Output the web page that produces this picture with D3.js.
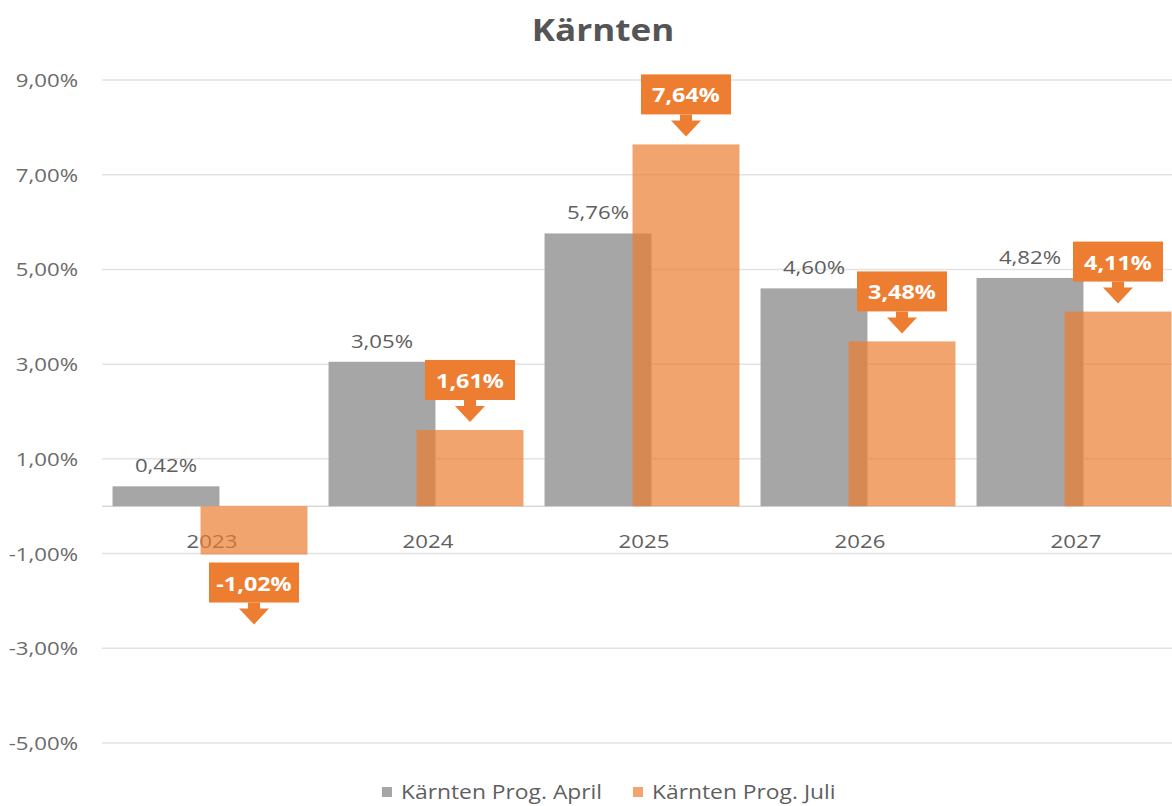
<!DOCTYPE html>
<html>
<head>
<meta charset="utf-8">
<script src="https://cdn.jsdelivr.net/npm/d3@7"></script>
<style>
  body { margin: 0; background: #fff; }
  #chart { width: 1172px; height: 806px; }
  text { font-family: "Open Sans", sans-serif; }
</style>
</head>
<body>
<div id="chart"></div>
<script>
const years = ["2023", "2024", "2025", "2026", "2027"];
const aprilValues = [0.42, 3.05, 5.76, 4.60, 4.82];
const juliValues = [-1.02, 1.61, 7.64, 3.48, 4.11];
const seriesNames = ["Kärnten Prog. April", "Kärnten Prog. Juli"];
const yTicks = [-5, -3, -1, 1, 3, 5, 7, 9];
const chartTitle = "Kärnten";

const width = 1172, height = 806;
const greyColor = "#a6a6a6";
const orangeColor = "#ed7d31";
const textColor = "#5f5f5f";
// the source picture is a bit wider than tall, so text gets stretched
const stretch = 1.17;

const locale = d3.formatLocale({ decimal: ",", thousands: ".", grouping: [3], currency: ["", "€"], minus: "-" });
const pct = v => locale.format(".2f")(v) + "%";
const place = (x, y) => "translate(" + x + "," + y + ") scale(" + stretch + ",1)";

const svg = d3.select("#chart")
    .append("svg")
    .attr("width", width)
    .attr("height", height)
    .attr("viewBox", "0 0 " + width + " " + height)
    .style("background-color", "white");

const y = d3.scaleLinear().domain([-5, 9]).range([743, 80]);
const x0 = d3.scaleBand().domain(years).range([104, 1184]);
const x1 = d3.scalePoint().domain(seriesNames).range([62, 150]);
const barW = x0.bandwidth() * 0.495;

// title
svg.append("text")
    .attr("transform", place(603, 41))
    .attr("text-anchor", "middle")
    .attr("font-size", 30)
    .attr("font-weight", "bold")
    .attr("fill", "#555")
    .text(chartTitle);

// grid lines + y labels
const grid = svg.append("g").attr("class", "grid");
grid.selectAll("line")
    .data(yTicks)
    .enter()
    .append("line")
    .attr("x1", 102)
    .attr("x2", width)
    .attr("y1", d => y(d))
    .attr("y2", d => y(d))
    .attr("stroke", "#e3e3e3")
    .attr("stroke-width", 1.5);

grid.selectAll("text")
    .data(yTicks)
    .enter()
    .append("text")
    .attr("transform", d => place(78, y(d) + 7))
    .attr("text-anchor", "end")
    .attr("font-size", 19)
    .attr("fill", "#6b6b6b")
    .text(d => pct(d));

// zero line
svg.append("line")
    .attr("x1", 102)
    .attr("x2", width)
    .attr("y1", y(0))
    .attr("y2", y(0))
    .attr("stroke", "#d9d9d9")
    .attr("stroke-width", 1.5);

// category labels
svg.append("g").selectAll("text")
    .data(years)
    .enter()
    .append("text")
    .attr("transform", d => place(x0(d) + x0.bandwidth() / 2, 548))
    .attr("text-anchor", "middle")
    .attr("font-size", 19)
    .attr("fill", textColor)
    .text(d => d);

// grey bars
svg.append("g").selectAll("rect")
    .data(aprilValues)
    .enter()
    .append("rect")
    .attr("x", (d, i) => x0(years[i]) + x1(seriesNames[0]) - barW / 2)
    .attr("y", d => y(Math.max(0, d)))
    .attr("width", barW)
    .attr("height", d => Math.abs(y(d) - y(0)))
    .attr("fill", greyColor);

// orange bars
svg.append("g").selectAll("rect")
    .data(juliValues)
    .enter()
    .append("rect")
    .attr("x", (d, i) => x0(years[i]) + x1(seriesNames[1]) - barW / 2)
    .attr("y", d => y(Math.max(0, d)))
    .attr("width", barW)
    .attr("height", d => Math.abs(y(d) - y(0)))
    .attr("fill", orangeColor)
    .attr("fill-opacity", 0.7);

// grey value labels
svg.append("g").selectAll("text")
    .data(aprilValues)
    .enter()
    .append("text")
    .attr("transform", (d, i) => place(x0(years[i]) + x1(seriesNames[0]), y(Math.max(0, d)) - 14))
    .attr("text-anchor", "middle")
    .attr("font-size", 19)
    .attr("fill", textColor)
    .text(d => pct(d));

// orange callouts
const boxW = 90, boxH = 40;
const callouts = svg.append("g").selectAll("g")
    .data(juliValues)
    .enter()
    .append("g")
    .attr("transform", (d, i) => {
        let cx = x0(years[i]) + x1(seriesNames[1]);
        let top = d >= 0 ? y(d) - 70 : y(d) + 8;
        return "translate(" + cx + "," + top + ")";
    });

callouts.append("rect")
    .attr("x", -boxW / 2)
    .attr("y", 0)
    .attr("width", boxW)
    .attr("height", boxH)
    .attr("fill", orangeColor);

callouts.append("path")
    .attr("d", "M-6," + boxH + " L6," + boxH + " L6," + (boxH + 6) + " L15," + (boxH + 6)
        + " L0," + (boxH + 22) + " L-15," + (boxH + 6) + " L-6," + (boxH + 6) + " Z")
    .attr("fill", orangeColor);

callouts.append("text")
    .attr("transform", place(0, 28))
    .attr("text-anchor", "middle")
    .attr("font-size", 20)
    .attr("font-weight", "bold")
    .attr("fill", "white")
    .text(d => pct(d));

// legend
const legendColors = [greyColor, "#f2a46f"];
const legendX = [382, 633];
const legend = svg.append("g").selectAll("g")
    .data(seriesNames)
    .enter()
    .append("g")
    .attr("transform", (d, i) => "translate(" + legendX[i] + ",787)");
legend.append("rect")
    .attr("width", 10)
    .attr("height", 10)
    .attr("fill", (d, i) => legendColors[i]);
legend.append("text")
    .attr("transform", place(19, 12))
    .attr("font-size", 19.5)
    .attr("fill", textColor)
    .text(d => d);
</script>
</body>
</html>
